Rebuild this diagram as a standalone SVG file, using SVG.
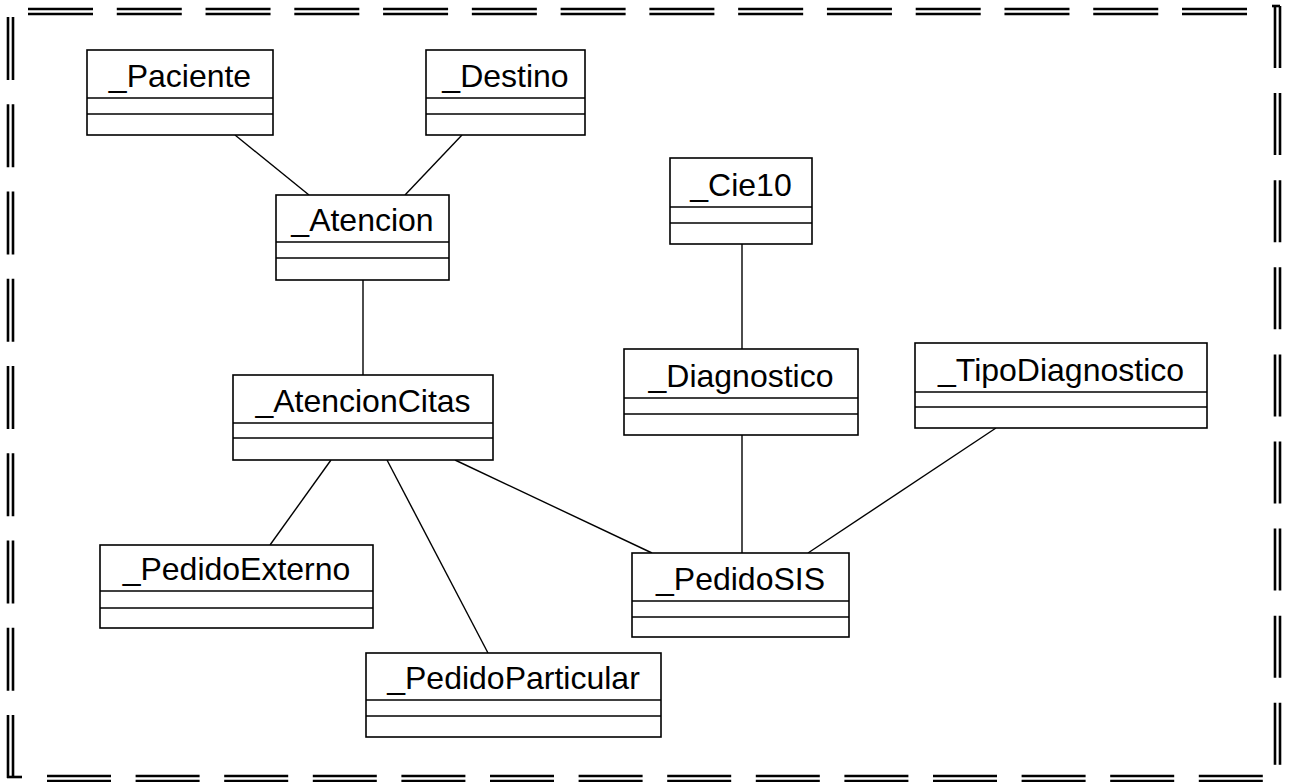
<svg xmlns="http://www.w3.org/2000/svg" width="1290" height="782" viewBox="0 0 1290 782">
<style>
.box{fill:#fff;stroke:#000;stroke-width:1.6}
.div{stroke:#000;stroke-width:1.6}
.lbl{font-family:"Liberation Sans",Arial,sans-serif;font-size:32px;fill:#000;text-anchor:middle}
.con{stroke:#000;stroke-width:1.4;fill:none}
.bh{stroke:#000;stroke-width:2.6;fill:none;stroke-dasharray:65 23.77}
.bb{stroke:#000;stroke-width:2.6;fill:none;stroke-dasharray:64 24.6}
.bl{stroke:#000;stroke-width:2.6;fill:none;stroke-dasharray:63 24.25}
.br{stroke:#000;stroke-width:2.6;fill:none;stroke-dasharray:62 25.1}
</style>
<rect width="1290" height="782" fill="#fff"/>
<g id="frame">
<line class="bh" x1="28" y1="9" x2="1265" y2="9"/>
<line class="bh" x1="28" y1="14" x2="1265" y2="14"/>
<line class="bb" x1="47" y1="776" x2="1264" y2="776"/>
<line class="bb" x1="47" y1="781" x2="1264" y2="781"/>
<line class="bl" x1="8" y1="17" x2="8" y2="778"/>
<line class="bl" x1="13" y1="17" x2="13" y2="778"/>
<line class="br" x1="1275" y1="6" x2="1275" y2="767"/>
<line class="br" x1="1280" y1="6" x2="1280" y2="767"/>
<line stroke="#000" stroke-width="2.6" x1="1272" y1="6" x2="1280" y2="6"/>
<line stroke="#000" stroke-width="2.6" x1="7" y1="777" x2="22" y2="777"/>
</g>
<g id="connectors">
<line class="con" x1="235" y1="135" x2="309" y2="195"/>
<line class="con" x1="462" y1="135" x2="405" y2="195"/>
<line class="con" x1="363" y1="280" x2="363" y2="375"/>
<line class="con" x1="742" y1="244" x2="742" y2="349"/>
<line class="con" x1="331" y1="460" x2="270" y2="545"/>
<line class="con" x1="387" y1="460" x2="488" y2="653"/>
<line class="con" x1="455" y1="460" x2="652" y2="553"/>
<line class="con" x1="742" y1="435" x2="742" y2="553"/>
<line class="con" x1="996" y1="428" x2="808" y2="553"/>
</g>
<g id="Paciente">
<rect class="box" x="87" y="50" width="186" height="85"/>
<line class="div" x1="87" y1="98" x2="273" y2="98"/>
<line class="div" x1="87" y1="114" x2="273" y2="114"/>
<text class="lbl" x="180" y="87">_Paciente</text>
</g>
<g id="Destino">
<rect class="box" x="426" y="50" width="159" height="85"/>
<line class="div" x1="426" y1="98" x2="585" y2="98"/>
<line class="div" x1="426" y1="114" x2="585" y2="114"/>
<text class="lbl" x="505.5" y="87">_Destino</text>
</g>
<g id="Atencion">
<rect class="box" x="276" y="195" width="173" height="85"/>
<line class="div" x1="276" y1="242" x2="449" y2="242"/>
<line class="div" x1="276" y1="258" x2="449" y2="258"/>
<text class="lbl" x="362.5" y="231">_Atencion</text>
</g>
<g id="Cie10">
<rect class="box" x="670" y="158" width="142" height="86"/>
<line class="div" x1="670" y1="207" x2="812" y2="207"/>
<line class="div" x1="670" y1="223" x2="812" y2="223"/>
<text class="lbl" x="741" y="196">_Cie10</text>
</g>
<g id="AtencionCitas">
<rect class="box" x="233" y="375" width="260" height="85"/>
<line class="div" x1="233" y1="423" x2="493" y2="423"/>
<line class="div" x1="233" y1="438" x2="493" y2="438"/>
<text class="lbl" x="363" y="412">_AtencionCitas</text>
</g>
<g id="Diagnostico">
<rect class="box" x="624" y="349" width="234" height="86"/>
<line class="div" x1="624" y1="398" x2="858" y2="398"/>
<line class="div" x1="624" y1="414" x2="858" y2="414"/>
<text class="lbl" x="741" y="387">_Diagnostico</text>
</g>
<g id="TipoDiagnostico">
<rect class="box" x="915" y="343" width="292" height="85"/>
<line class="div" x1="915" y1="392" x2="1207" y2="392"/>
<line class="div" x1="915" y1="407" x2="1207" y2="407"/>
<text class="lbl" x="1061" y="381">_TipoDiagnostico</text>
</g>
<g id="PedidoExterno">
<rect class="box" x="100" y="545" width="273" height="83"/>
<line class="div" x1="100" y1="591" x2="373" y2="591"/>
<line class="div" x1="100" y1="608" x2="373" y2="608"/>
<text class="lbl" x="236.5" y="580">_PedidoExterno</text>
</g>
<g id="PedidoSIS">
<rect class="box" x="632" y="553" width="217" height="84"/>
<line class="div" x1="632" y1="601" x2="849" y2="601"/>
<line class="div" x1="632" y1="617" x2="849" y2="617"/>
<text class="lbl" x="740.5" y="590">_PedidoSIS</text>
</g>
<g id="PedidoParticular">
<rect class="box" x="366" y="653" width="295" height="84"/>
<line class="div" x1="366" y1="700" x2="661" y2="700"/>
<line class="div" x1="366" y1="716" x2="661" y2="716"/>
<text class="lbl" x="513.5" y="689">_PedidoParticular</text>
</g>
</svg>
